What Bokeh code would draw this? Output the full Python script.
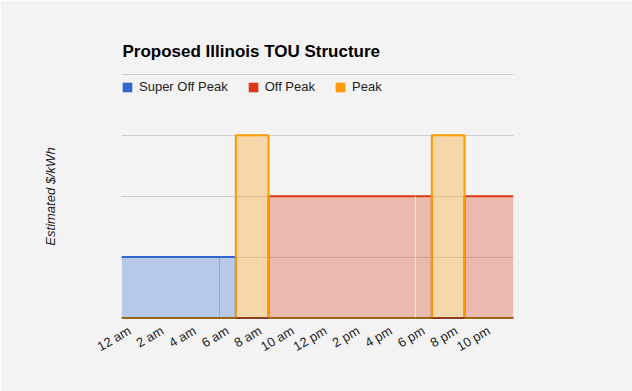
import math
from bokeh.plotting import figure
from bokeh.models import (Range1d, FixedTicker, Grid, Legend, LegendItem, Span)
from bokeh.embed import file_html
from bokeh.resources import INLINE

# ---- data ----
chart_title = "Proposed Illinois TOU Structure"
y_title = "Estimated $/kWh"
hours = list(range(24))
tick_hours = [0, 2, 4, 6, 8, 10, 12, 14, 16, 18, 20, 22]
tick_labels = ["12 am", "2 am", "4 am", "6 am", "8 am", "10 am",
               "12 pm", "2 pm", "4 pm", "6 pm", "8 pm", "10 pm"]
series_names = ["Super Off Peak", "Off Peak", "Peak"]
super_off_peak = [1, 1, 1, 1, 1, 1, 1, 0, 0, 0, 0, 0, 0, 0, 0, 0, 0, 0, 0, 0, 0, 0, 0, 0]
off_peak = [0, 0, 0, 0, 0, 0, 0, 0, 0, 2, 2, 2, 2, 2, 2, 2, 2, 2, 2, 0, 0, 2, 2, 2]
peak = [0, 0, 0, 0, 0, 0, 0, 3, 3, 0, 0, 0, 0, 0, 0, 0, 0, 0, 0, 3, 3, 0, 0, 0]
series_values = [super_off_peak, off_peak, peak]
colors = ["#3366cc", "#dc3912", "#ff9900"]
grid_values = [1, 2, 3, 4]
# seams visible in the original rendering: (hour, series index)
seams = [(6, 0), (18, 1)]

BG = "#f3f3f3"

p = figure(width=632, height=391, x_range=Range1d(0, 24), y_range=Range1d(-0.025, 4.0165),
           output_backend="svg", toolbar_location=None,
           min_border_left=121, min_border_right=119, min_border_top=73, min_border_bottom=72,
           background_fill_color=BG, border_fill_color=BG, outline_line_color=None)
p.xgrid.visible = False
p.ygrid.visible = False
p.add_layout(Grid(dimension=1, ticker=FixedTicker(ticks=grid_values),
                  grid_line_color="#cccccc", grid_line_width=1))

for name, vals, c in zip(series_names, series_values, colors):
    xs = hours + [hours[-1] + 1]
    ys = vals + [vals[-1]]
    p.varea_step(x=xs, y1=[0] * len(xs), y2=ys, step_mode="after",
                 fill_color=c, fill_alpha=0.3)
    p.step(x=xs, y=ys, mode="after", line_color=c, line_width=2)

# seams
seam_colors = {0: ("#3366cc", 0.3), 1: ("#ffffff", 0.6)}
for h, si in seams:
    col, a = seam_colors[si]
    p.segment(x0=[h], y0=[0], x1=[h], y1=[series_values[si][h]],
              line_color=col, line_alpha=a, line_width=1)

legend_items = []
for name, c in zip(series_names, colors):
    r = p.quad(left=[0], right=[0], top=[0], bottom=[0], fill_color=c, line_color=None)
    legend_items.append(LegendItem(label=name, renderers=[r]))

legend = Legend(items=legend_items, location=(0, 225), orientation="horizontal",
                glyph_width=12, glyph_height=12, label_height=12, label_standoff=6,
                spacing=19, padding=0, margin=0, border_line_color=None,
                background_fill_alpha=0, label_text_font="Liberation Sans",
                label_text_font_size="13px", label_text_color="#222222")
p.add_layout(legend)

p.add_layout(Span(location=0, dimension="width", line_color="#333333", line_width=1,
                  level="overlay"))

ax = p.xaxis[0]
ax.ticker = FixedTicker(ticks=[h + 0.5 for h in tick_hours])
ax.major_label_overrides = {h + 0.5: lab for h, lab in zip(tick_hours, tick_labels)}
ax.major_label_orientation = math.pi / 6
ax.axis_line_color = None
ax.major_tick_line_color = None
ax.minor_tick_line_color = None
ax.major_tick_out = 0
ax.major_label_standoff = 10
ax.major_label_text_font = "Liberation Sans"
ax.major_label_text_font_size = "13px"
ax.major_label_text_color = "#222222"

ya = p.yaxis[0]
ya.ticker = FixedTicker(ticks=[])
ya.axis_line_color = None
ya.major_tick_line_color = None
ya.minor_tick_line_color = None
ya.major_tick_out = 0
ya.major_label_standoff = 0
ya.axis_label = y_title
ya.axis_label_standoff = 64
ya.axis_label_text_font = "Liberation Sans"
ya.axis_label_text_font_style = "italic"
ya.axis_label_text_font_size = "13px"
ya.axis_label_text_color = "#222222"

p.title.text = chart_title
p.title.align = "left"
p.title.offset = 1
p.title.text_font = "Liberation Sans"
p.title.text_font_style = "bold"
p.title.text_font_size = "17px"
p.title.text_color = "#000000"
p.title.standoff = 26

open("out.html", "w").write(file_html(p, INLINE))
